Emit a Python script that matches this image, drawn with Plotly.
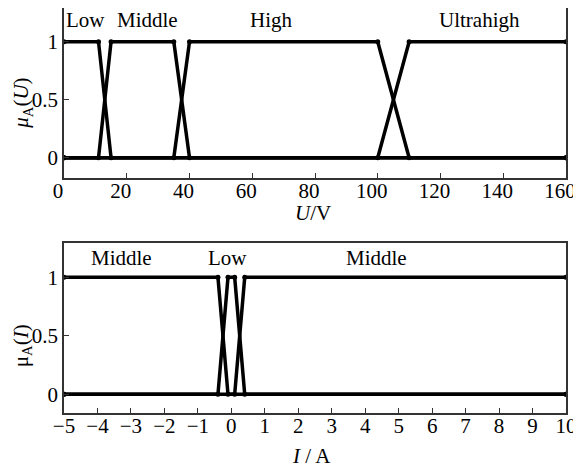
import plotly.graph_objects as go

# ---- data: voltage membership functions ----
u_low_x = [0, 11, 15, 160]
u_low_y = [1, 1, 0, 0]
u_mid_x = [0, 11, 15, 35, 40, 160]
u_mid_y = [0, 0, 1, 1, 0, 0]
u_high_x = [0, 35, 40, 100, 110, 160]
u_high_y = [0, 0, 1, 1, 0, 0]
u_ultra_x = [0, 100, 110, 160]
u_ultra_y = [0, 0, 1, 1]
u_labels = ["Low", "Middle", "High", "Ultrahigh"]
u_label_x = [7, 26.5, 66, 132.5]

# ---- data: current membership functions ----
i_midn_x = [-5, -0.4, -0.1, 10]
i_midn_y = [1, 1, 0, 0]
i_low_x = [-5, -0.4, -0.1, 0.1, 0.4, 10]
i_low_y = [0, 0, 1, 1, 0, 0]
i_midp_x = [-5, 0.1, 0.4, 10]
i_midp_y = [0, 0, 1, 1]
i_labels = ["Middle", "Low", "Middle"]
i_label_x = [-3.27, -0.1, 4.35]

u_ticks = [0, 20, 40, 60, 80, 100, 120, 140, 160]
i_ticks = list(range(-5, 11))
i_ticktext = [("\u2212" + str(-t)) if t < 0 else str(t) for t in i_ticks]
y_ticks = [0, 0.5, 1]
y_ticktext = ["0", "0.5", "1"]

FONT = "Liberation Serif"
fig = go.Figure()

def add(x, y, xa, ya):
    fig.add_trace(go.Scatter(x=x, y=y, mode="lines+markers", xaxis=xa, yaxis=ya,
                             line=dict(color="black", width=3.5),
                             marker=dict(color="black", size=5),
                             showlegend=False, hoverinfo="skip"))

for x, y in [(u_low_x, u_low_y), (u_mid_x, u_mid_y), (u_high_x, u_high_y), (u_ultra_x, u_ultra_y)]:
    add(x, y, "x", "y")
for x, y in [(i_midn_x, i_midn_y), (i_low_x, i_low_y), (i_midp_x, i_midp_y)]:
    add(x, y, "x2", "y2")

tf = dict(family=FONT, size=21, color="black")
ann = []
for t, xv in zip(u_labels, u_label_x):
    ann.append(dict(x=xv, y=1.185, xref="x", yref="y", text=t, showarrow=False, font=tf))
for t, xv in zip(i_labels, i_label_x):
    ann.append(dict(x=xv, y=1.165, xref="x2", yref="y2", text=t, showarrow=False, font=tf))

# axis titles
ann.append(dict(x=0.496, y=0.4926, xref="paper", yref="paper", text="<i>U</i>/V",
                showarrow=False, font=tf, xanchor="center", yanchor="middle"))
ann.append(dict(x=0.494, y=-0.106, xref="paper", yref="paper", text="<i>I</i> / A",
                showarrow=False, font=tf, xanchor="center", yanchor="middle"))
ann.append(dict(x=-0.0837, y=0.766, xref="paper", yref="paper", text="<i>μ</i><sub>A</sub>(<i>U</i>)",
                showarrow=False, font=tf, textangle=-90, xanchor="center", yanchor="middle"))
ann.append(dict(x=-0.0837, y=0.1675, xref="paper", yref="paper", text="μ<sub>A</sub>(<i>I</i>)",
                showarrow=False, font=tf, textangle=-90, xanchor="center", yanchor="middle"))

axis_common = dict(showgrid=False, zeroline=False, showline=True, linecolor="#333",
                   linewidth=1.5, mirror=True, ticks="inside", ticklen=5, tickwidth=1,
                   tickcolor="#333", tickfont=tf, automargin=False, ticklabeloverflow="allow")

# page body has an 8px margin, so the figure origin sits 8px in from the window edge
fig.update_layout(
    width=573, height=463,
    margin=dict(l=56, r=15, t=0, b=58),
    paper_bgcolor="white", plot_bgcolor="white",
    annotations=ann,
    xaxis=dict(axis_common, range=[0, 160], tickvals=u_ticks, domain=[0, 1], anchor="y",
               ticklabelstandoff=-7, ticklabelshift=-6),
    yaxis=dict(axis_common, range=[-0.17, 1.29], tickvals=y_ticks, ticktext=y_ticktext,
               domain=[0.5813, 1], anchor="x"),
    xaxis2=dict(axis_common, range=[-5, 10], tickvals=i_ticks, ticktext=i_ticktext, domain=[0, 1], anchor="y2",
                ticklabelstandoff=-7),
    yaxis2=dict(axis_common, range=[-0.16, 1.29], tickvals=y_ticks, ticktext=y_ticktext,
                domain=[0, 0.4187], anchor="x2"),
)

fig.write_html("out.html")
